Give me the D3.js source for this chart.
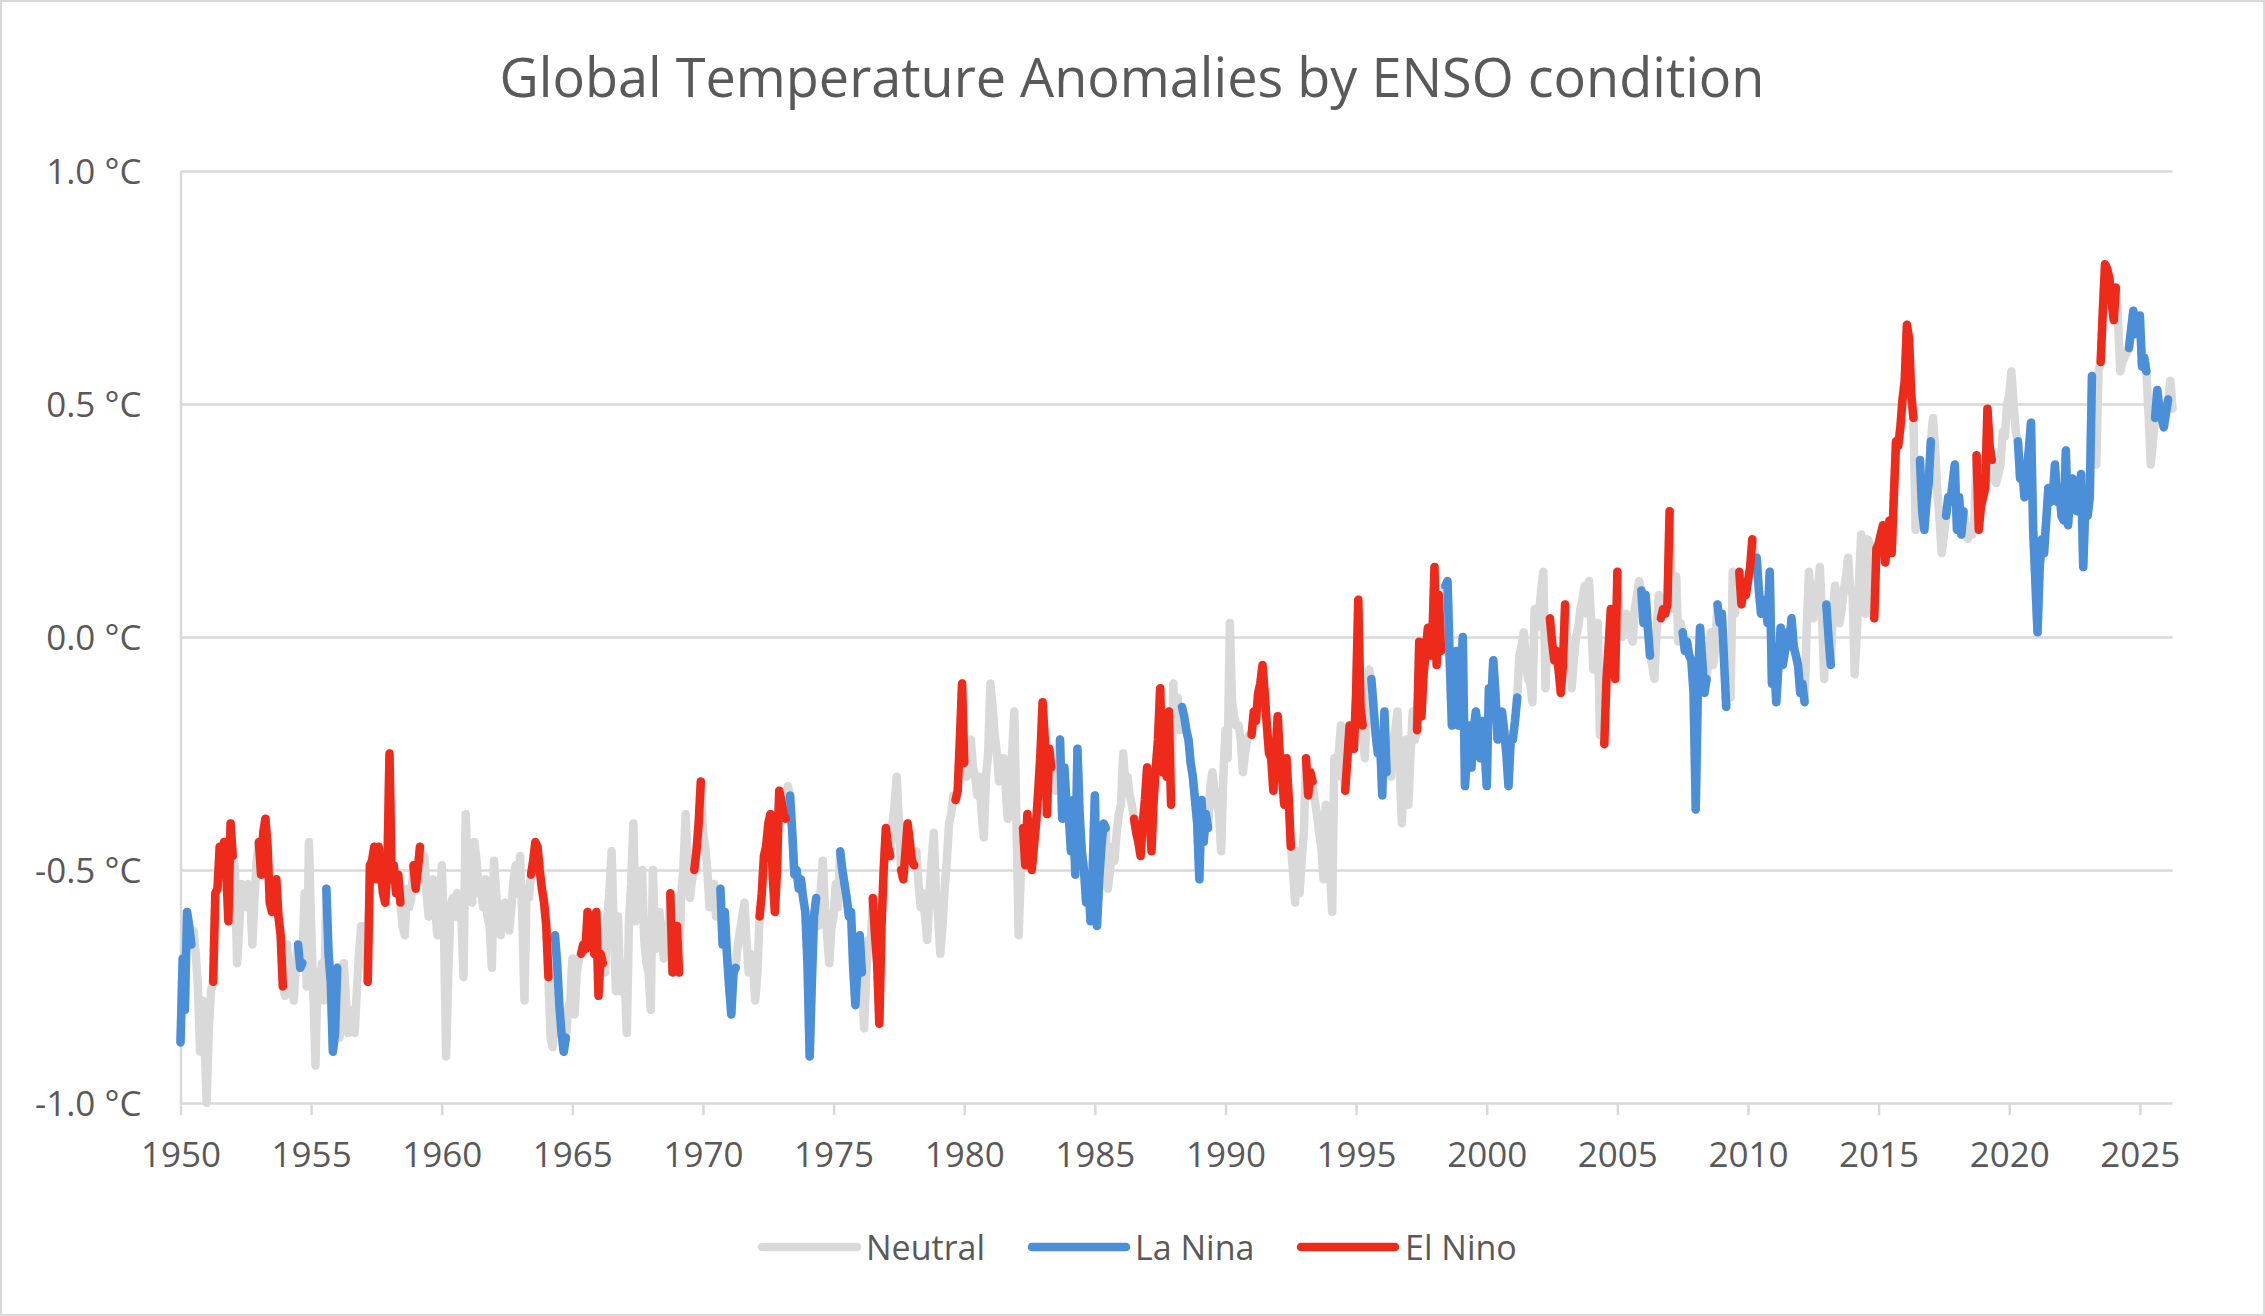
<!DOCTYPE html>
<html>
<head>
<meta charset="utf-8">
<script src="https://cdn.jsdelivr.net/npm/d3@7/dist/d3.min.js"></script>
<style>
  html, body { margin: 0; padding: 0; background: #ffffff; }
  svg { display: block; }
  text { font-family: "Open Sans", "Noto Sans", sans-serif; fill: #595959; }
</style>
</head>
<body>
<svg id="chart" width="2265" height="1316"></svg>
<script>
// ---------------- DATA ----------------
const chartTitle = "Global Temperature Anomalies by ENSO condition";
const startYear = 1950;           // first month = January 1950, monthly values
const seriesKeys = ["N", "L", "E"];
const seriesNames = ["Neutral", "La Nina", "El Nino"];
const yTickValues = [-1.0, -0.5, 0.0, 0.5, 1.0];
const xTickYears = [1950, 1955, 1960, 1965, 1970, 1975, 1980, 1985, 1990, 1995,
                    2000, 2005, 2010, 2015, 2020, 2025];

// monthly global temperature anomaly (°C), one row per year
const anomalies = [
  -0.87,-0.69,-0.80,-0.59,-0.62,-0.66,-0.63,-0.68,-0.75,-0.89,-0.78,-0.86, // 1950
  -1.00,-0.84,-0.76,-0.74,-0.55,-0.54,-0.45,-0.47,-0.44,-0.50,-0.61,-0.40, // 1951
  -0.47,-0.50,-0.70,-0.62,-0.53,-0.55,-0.58,-0.53,-0.55,-0.66,-0.56,-0.48, // 1952
  -0.44,-0.51,-0.42,-0.39,-0.45,-0.57,-0.59,-0.55,-0.52,-0.60,-0.64,-0.75, // 1953
  -0.77,-0.66,-0.76,-0.72,-0.78,-0.70,-0.66,-0.71,-0.70,-0.55,-0.75,-0.44, // 1954
  -0.62,-0.76,-0.92,-0.72,-0.75,-0.70,-0.78,-0.54,-0.68,-0.74,-0.89,-0.85, // 1955
  -0.71,-0.86,-0.80,-0.70,-0.78,-0.85,-0.84,-0.80,-0.85,-0.76,-0.68,-0.62, // 1956
  -0.70,-0.62,-0.74,-0.49,-0.48,-0.45,-0.52,-0.45,-0.50,-0.55,-0.57,-0.50, // 1957
  -0.25,-0.52,-0.49,-0.55,-0.51,-0.57,-0.62,-0.64,-0.54,-0.58,-0.56,-0.49, // 1958
  -0.54,-0.50,-0.45,-0.52,-0.47,-0.55,-0.60,-0.56,-0.52,-0.58,-0.64,-0.60, // 1959
  -0.49,-0.62,-0.90,-0.72,-0.58,-0.56,-0.60,-0.55,-0.58,-0.60,-0.73,-0.38, // 1960
  -0.50,-0.56,-0.57,-0.44,-0.48,-0.55,-0.54,-0.58,-0.52,-0.60,-0.62,-0.71, // 1961
  -0.48,-0.55,-0.60,-0.64,-0.60,-0.57,-0.60,-0.63,-0.58,-0.52,-0.49,-0.55, // 1962
  -0.47,-0.60,-0.78,-0.54,-0.56,-0.51,-0.48,-0.44,-0.45,-0.50,-0.54,-0.57, // 1963
  -0.62,-0.73,-0.86,-0.88,-0.64,-0.70,-0.79,-0.85,-0.89,-0.86,-0.80,-0.78, // 1964
  -0.69,-0.81,-0.72,-0.69,-0.68,-0.66,-0.67,-0.59,-0.63,-0.64,-0.68,-0.59, // 1965
  -0.77,-0.68,-0.70,-0.72,-0.60,-0.55,-0.46,-0.62,-0.76,-0.60,-0.76,-0.70, // 1966
  -0.72,-0.85,-0.61,-0.53,-0.40,-0.61,-0.55,-0.60,-0.50,-0.65,-0.70,-0.72, // 1967
  -0.80,-0.50,-0.67,-0.62,-0.59,-0.64,-0.69,-0.62,-0.66,-0.55,-0.72,-0.64, // 1968
  -0.62,-0.72,-0.55,-0.50,-0.38,-0.48,-0.56,-0.52,-0.50,-0.46,-0.40,-0.31, // 1969
  -0.42,-0.45,-0.50,-0.58,-0.55,-0.53,-0.60,-0.56,-0.54,-0.66,-0.59,-0.68, // 1970
  -0.75,-0.81,-0.72,-0.71,-0.66,-0.63,-0.60,-0.57,-0.65,-0.72,-0.68,-0.70, // 1971
  -0.78,-0.72,-0.60,-0.55,-0.47,-0.45,-0.40,-0.38,-0.51,-0.59,-0.50,-0.33, // 1972
  -0.35,-0.38,-0.39,-0.32,-0.34,-0.42,-0.51,-0.50,-0.54,-0.52,-0.56,-0.59, // 1973
  -0.70,-0.90,-0.74,-0.60,-0.56,-0.62,-0.55,-0.48,-0.58,-0.64,-0.70,-0.62, // 1974
  -0.60,-0.53,-0.58,-0.46,-0.50,-0.53,-0.56,-0.60,-0.59,-0.71,-0.79,-0.70, // 1975
  -0.64,-0.72,-0.84,-0.72,-0.65,-0.66,-0.56,-0.64,-0.70,-0.83,-0.62,-0.50, // 1976
  -0.41,-0.45,-0.47,-0.40,-0.36,-0.30,-0.40,-0.50,-0.52,-0.46,-0.40,-0.44, // 1977
  -0.48,-0.49,-0.46,-0.53,-0.58,-0.55,-0.60,-0.65,-0.55,-0.48,-0.42,-0.55, // 1978
  -0.60,-0.68,-0.62,-0.54,-0.48,-0.40,-0.38,-0.34,-0.35,-0.33,-0.22,-0.10, // 1979
  -0.27,-0.30,-0.26,-0.22,-0.28,-0.30,-0.34,-0.30,-0.38,-0.43,-0.30,-0.25, // 1980
  -0.10,-0.15,-0.21,-0.25,-0.31,-0.26,-0.26,-0.32,-0.39,-0.30,-0.25,-0.16, // 1981
  -0.40,-0.64,-0.50,-0.41,-0.49,-0.38,-0.44,-0.50,-0.45,-0.40,-0.33,-0.25, // 1982
  -0.14,-0.22,-0.38,-0.24,-0.28,-0.30,-0.33,-0.26,-0.22,-0.39,-0.28,-0.36, // 1983
  -0.38,-0.46,-0.35,-0.51,-0.24,-0.38,-0.46,-0.50,-0.57,-0.52,-0.61,-0.50, // 1984
  -0.34,-0.62,-0.52,-0.45,-0.40,-0.41,-0.54,-0.50,-0.45,-0.48,-0.42,-0.38, // 1985
  -0.36,-0.25,-0.32,-0.30,-0.34,-0.36,-0.39,-0.42,-0.44,-0.47,-0.40,-0.35, // 1986
  -0.28,-0.36,-0.46,-0.35,-0.28,-0.22,-0.11,-0.29,-0.24,-0.30,-0.16,-0.36, // 1987
  -0.10,-0.18,-0.13,-0.20,-0.15,-0.17,-0.20,-0.22,-0.27,-0.30,-0.35,-0.40, // 1988
  -0.52,-0.35,-0.44,-0.38,-0.41,-0.32,-0.29,-0.33,-0.35,-0.38,-0.46,-0.30, // 1989
  -0.20,-0.26, 0.03,-0.14,-0.17,-0.19,-0.19,-0.22,-0.29,-0.25,-0.22,-0.21, // 1990
  -0.21,-0.16,-0.18,-0.12,-0.10,-0.06,-0.12,-0.19,-0.25,-0.26,-0.33,-0.25, // 1991
  -0.17,-0.26,-0.30,-0.36,-0.26,-0.34,-0.45,-0.50,-0.57,-0.46,-0.55,-0.48, // 1992
  -0.42,-0.26,-0.34,-0.29,-0.31,-0.35,-0.38,-0.42,-0.45,-0.52,-0.36,-0.44, // 1993
  -0.50,-0.59,-0.26,-0.30,-0.25,-0.19,-0.28,-0.33,-0.26,-0.19,-0.22,-0.24, // 1994
  -0.12, 0.08,-0.15,-0.19,-0.26,-0.15,-0.07,-0.09,-0.15,-0.21,-0.25,-0.22, // 1995
  -0.34,-0.16,-0.29,-0.25,-0.30,-0.22,-0.20,-0.16,-0.28,-0.40,-0.30,-0.22, // 1996
  -0.36,-0.25,-0.16,-0.22,-0.20,-0.01,-0.17,-0.08,-0.03, 0.02,-0.04,-0.01, // 1997
   0.15,-0.06, 0.09,-0.03, 0.05, 0.11, 0.12,-0.05,-0.19,-0.10,-0.03,-0.19, // 1998
  -0.10, 0.00,-0.32,-0.25,-0.19,-0.28,-0.20,-0.16,-0.20,-0.26,-0.18,-0.24, // 1999
  -0.32,-0.11,-0.15,-0.05,-0.12,-0.22,-0.18,-0.16,-0.20,-0.25,-0.32,-0.22, // 2000
  -0.22,-0.18,-0.13,-0.04,-0.02, 0.01,-0.05,-0.09,-0.10,-0.14, 0.06, 0.02, // 2001
   0.05, 0.10, 0.14,-0.11, 0.01, 0.04,-0.01,-0.05,-0.03,-0.07,-0.12,-0.06, // 2002
   0.07,-0.02,-0.02,-0.11,-0.05, 0.00, 0.02, 0.06, 0.08, 0.11, 0.05, 0.12, // 2003
   0.03,-0.07, 0.00, 0.03,-0.21,-0.12,-0.23,-0.09,-0.02, 0.06,-0.02,-0.09, // 2004
   0.14, 0.03, 0.00, 0.03, 0.05, 0.02, 0.01,-0.01, 0.06, 0.09, 0.12, 0.10, // 2005
   0.03, 0.09, 0.02,-0.04,-0.06,-0.09, 0.01, 0.09, 0.04, 0.06, 0.05, 0.07, // 2006
   0.27, 0.10, 0.06, 0.13,-0.01, 0.03, 0.01,-0.03,-0.01,-0.04,-0.05,-0.12, // 2007
  -0.37,-0.10, 0.02,-0.05,-0.12,-0.09,-0.03, 0.01,-0.06,-0.02, 0.07, 0.03, // 2008
   0.05,-0.05,-0.15,-0.05,-0.13, 0.14, 0.05, 0.10, 0.14, 0.07, 0.10, 0.09, // 2009
   0.12, 0.15, 0.21, 0.18, 0.17, 0.10, 0.05, 0.06, 0.08, 0.03, 0.14,-0.10, // 2010
  -0.05,-0.14,-0.06, 0.02,-0.06,-0.03, 0.01,-0.02, 0.04,-0.02,-0.04,-0.06, // 2011
  -0.12,-0.10,-0.14, 0.02, 0.14, 0.08, 0.04, 0.08, 0.10, 0.15, 0.05,-0.09, // 2012
   0.07, 0.00,-0.06, 0.05, 0.11, 0.06, 0.03, 0.06, 0.10, 0.13, 0.17, 0.10, // 2013
   0.10,-0.08, 0.01, 0.12, 0.22, 0.12, 0.05, 0.21, 0.20, 0.17, 0.04, 0.19, // 2014
   0.20, 0.22, 0.24, 0.16, 0.20, 0.25, 0.18, 0.30, 0.42, 0.41, 0.45, 0.51, // 2015
   0.55, 0.67, 0.64, 0.52, 0.47, 0.23, 0.30, 0.38, 0.27, 0.23, 0.29, 0.33, // 2016
   0.42, 0.47, 0.40, 0.31, 0.25, 0.18, 0.22, 0.26, 0.30, 0.29, 0.33, 0.37, // 2017
   0.23, 0.30, 0.22, 0.27, 0.24, 0.21, 0.23, 0.22, 0.25, 0.39, 0.23, 0.28, // 2018
   0.30, 0.32, 0.49, 0.41, 0.38, 0.34, 0.33, 0.35, 0.37, 0.44, 0.43, 0.50, // 2019
   0.52, 0.57, 0.50, 0.44, 0.42, 0.34, 0.36, 0.30, 0.36, 0.40, 0.46, 0.23, // 2020
   0.12, 0.01, 0.15, 0.21, 0.18, 0.25, 0.32, 0.29, 0.30, 0.37, 0.29, 0.32, // 2021
   0.26, 0.25, 0.40, 0.24, 0.30, 0.34, 0.30, 0.27, 0.30, 0.35, 0.15, 0.29, // 2022
   0.26, 0.30, 0.56, 0.40, 0.37, 0.57, 0.59, 0.70, 0.80, 0.79, 0.77, 0.72, // 2023
   0.68, 0.75, 0.68, 0.57, 0.59, 0.60, 0.61, 0.62, 0.66, 0.70, 0.65, 0.66, // 2024
   0.69, 0.58, 0.60, 0.57, 0.48, 0.37, 0.42, 0.47, 0.53, 0.49, 0.47, 0.45, // 2025
   0.48, 0.51, 0.55, 0.49                                                  // 2026
];

// ENSO condition per month: N = Neutral, L = La Nina, E = El Nino
const ensoConditions = [
  "LLLLLLNNNNNN", "NNNEEEEEEEEE", "ENNNNNNNNNNN", "EEEEEEEEEEEE", "NNNNNNLLLNNN", // 1950-54
  "NNNNNNNLLLLL", "LNNNNNNNNNNN", "NNEEEEEEEEEE", "EEEEEENNNNNE", "EEENNNNNNNNN", // 1955-59
  "NNNNNNNNNNNN", "NNNNNNNNNNNN", "NNNNNNNNNNNN", "NNNNNEEEEEEE", "EENNLLLLLLNN", // 1960-64
  "NNNNEEEEEEEE", "EEENNNNNNNNN", "NNNNNNNNNNNN", "NNNNNNNNNEEE", "EENNNNNNEEEE", // 1965-69
  "NNNNNNNNLLLL", "LLLLNNNNNNNN", "NNEEEEEEEEEE", "EEENLLLLLLLL", "LLLLLNNNNNNN", // 1970-74
  "NNNLLLLLLLLL", "LLNNNNEEEEEE", "EEENNNNEEEEE", "EENNNNNNNNNN", "NNNNNNNNEEEE", // 1975-79
  "ENNNNNNNNNNN", "NNNNNNNNNNNN", "NNNEEEEEEEEE", "EEEEENNNLLLL", "LLLLLLLLLLLL", // 1980-84
  "LLLLLLNNNNNN", "NNNNNNEEEEEE", "EEEEEEEEEEEE", "NNNNLLLLLLLL", "LLLLLNNNNNNN", // 1985-89
  "NNNNNNNNNNNN", "EEEEEEEEEEEE", "EEEEEEENNNNN", "NEEEENNNNNNN", "NNNNNNNEEEEE", // 1990-94
  "EEEENNNLLLLL", "LLLNNNNNNNNN", "NNNNEEEEEEEE", "EEEENLLLLLLL", "LLLLLLLLLLLL", // 1995-99
  "LLLLLLLLLLLL", "LLLNNNNNNNNN", "NNNNNEEEEEEE", "ENNNNNNNNNNN", "NNNNNNEEEEEE", // 2000-04
  "ENNNNNNNNNNL", "LLLLNNNNEEEE", "ENNNNNLLLLLL", "LLLLLLNNNNLL", "LLLNNNNNEEEE", // 2005-09
  "EEENLLLLLLLL", "LLLLLLLLLLLL", "LLLNNNNNNNNN", "LLLNNNNNNNNN", "NNNNNNNNNNEE", // 2010-14
  "EEEEEEEEEEEE", "EEEEENNLLLLL", "LNNNNNNLLLLL", "LLLLNNNNNEEE", "EEEEENNNNNNN", // 2015-19
  "NNNNLLLLLLLL", "LLLLLLLLLLLL", "LLLLLLLLLLLL", "LLLNNNEEEEEE", "EENNNNNLLLLL", // 2020-24
  "LLLLNNNLLLLL", "LLNN"                                                            // 2025-26
].join("");

// ---------------- STYLE / LAYOUT ----------------
const W = 2265, H = 1316;
const plot = { left: 180.5, right: 2172.5, top: 171, bottom: 1103 };
const colors = { N: "#d9d9d9", L: "#4a8fd8", E: "#ee2b1b" };
const gridColor = "#d9d9d9";
const textColor = "#595959";
const lineWidth = 8.5;

const svg = d3.select("#chart");

// outer border
svg.append("rect")
  .attr("x", 1).attr("y", 1).attr("width", W - 2).attr("height", H - 2)
  .attr("fill", "#fff").attr("stroke", gridColor).attr("stroke-width", 2);

const points = anomalies.map((v, i) => ({ t: startYear + i / 12, v: v, c: ensoConditions[i] }));

const x = d3.scaleLinear()
  .domain([startYear, points[points.length - 1].t])
  .range([plot.left, plot.right]);
const y = d3.scaleLinear().domain([-1, 1]).range([plot.bottom, plot.top]);

// y axis with gridlines
const yAxis = d3.axisLeft(y)
  .tickValues(yTickValues)
  .tickSize(-(plot.right - plot.left))
  .tickSizeOuter(0)
  .tickPadding(39)
  .tickFormat(d => d.toFixed(1) + " °C");
const yg = svg.append("g").attr("transform", `translate(${plot.left},0)`).call(yAxis);
yg.select(".domain").attr("stroke", gridColor).attr("stroke-width", 2.5);
yg.selectAll(".tick line").attr("stroke", gridColor).attr("stroke-width", 2.5);
yg.selectAll(".tick text")
  .attr("fill", textColor)
  .style("font-size", "35px")
  .attr("dy", "0.36em");

// x axis
const xAxis = d3.axisBottom(x)
  .tickValues(xTickYears)
  .tickSize(12)
  .tickSizeOuter(0)
  .tickPadding(27)
  .tickFormat(d3.format("d"));
const xg = svg.append("g").attr("transform", `translate(0,${plot.bottom})`).call(xAxis);
xg.select(".domain").remove();
xg.selectAll(".tick line").attr("stroke", gridColor).attr("stroke-width", 2.5);
xg.selectAll(".tick text")
  .attr("fill", textColor)
  .style("font-size", "35px");

// lines
const line = d3.line().x(d => x(d.t)).y(d => y(d.v));
const lineG = svg.append("g")
  .attr("fill", "none")
  .attr("stroke-linejoin", "round")
  .attr("stroke-linecap", "round")
  .attr("stroke-width", lineWidth);

// neutral series: whole record as base
lineG.append("path").datum(points).attr("d", line).attr("stroke", colors.N);

// La Nina / El Nino runs
function runsOf(code) {
  const runs = [];
  let cur = null;
  points.forEach(p => {
    if (p.c === code) { if (!cur) { cur = []; runs.push(cur); } cur.push(p); }
    else cur = null;
  });
  return runs;
}
["L", "E"].forEach(code => {
  runsOf(code).forEach(run => {
    const pts = run.length === 1 ? [run[0], run[0]] : run;
    lineG.append("path").datum(pts).attr("d", line).attr("stroke", colors[code]);
  });
});

// title
const title = svg.append("text")
  .attr("x", 1132).attr("y", 97)
  .attr("text-anchor", "middle")
  .style("font-size", "50px")
  .attr("fill", textColor)
  .text(chartTitle);
const tw = title.node().getComputedTextLength();
title.style("font-size", (50 * 1265 / tw).toFixed(2) + "px");

// legend
const legendItems = [
  { x1: 762, x2: 857, tx: 866 },
  { x1: 1032, x2: 1126, tx: 1135 },
  { x1: 1301, x2: 1395, tx: 1405 }
];
const legendY = 1247;
const lg = svg.append("g");
seriesKeys.forEach((k, i) => {
  const it = legendItems[i];
  lg.append("line")
    .attr("x1", it.x1).attr("x2", it.x2).attr("y1", legendY).attr("y2", legendY)
    .attr("stroke", colors[k]).attr("stroke-width", 8.5).attr("stroke-linecap", "round");
  lg.append("text")
    .attr("x", it.tx).attr("y", legendY + 13)
    .style("font-size", "34px")
    .attr("fill", textColor)
    .text(seriesNames[i]);
});
</script>
</body>
</html>
